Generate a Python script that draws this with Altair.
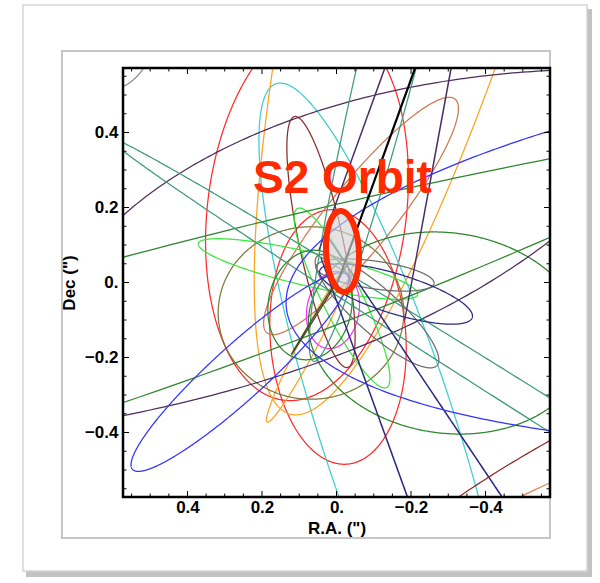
import numpy as np
import pandas as pd
import altair as alt

# ---------------- data: projected stellar orbits (arcsec) ----------------
orbit_ids = ["red_a", "red_b", "black", "cyan", "orange_a", "orange_b", "olive",
             "sienna", "magenta", "maroon", "lime_a", "lime_b", "dkgreen_a",
             "dkgreen_b", "dkgreen_c", "dkgreen_d", "purple_a", "purple_b",
             "seagreen_a", "seagreen_b", "gray_a", "gray_b", "gray_c", "navy_a",
             "purple_c", "purple_d", "navy_b", "navy_c", "blue_a", "blue_b",
             "dkolive", "maroon_b", "sienna_b"]
orbit_cx = [0.0792, -0.0040, -0.2295, -0.1382, -0.3745, 0.0725, 0.0685, -0.0658,
            0.0094, 0.0416, 0.0765, -0.0148, -0.2966, 0.0711, -0.3584, 0.6752,
            -0.7074, 1.4403, -0.7477, -0.1973, -0.1087, -0.1034, 0.6349, -0.1597,
            -0.1812, -0.3047, -0.1866, -0.4174, 0.2591, -1.9960, 0.0470, -0.8685,
            -0.8738]
orbit_cy = [0.1933, -0.1453, 0.6227, -0.3933, 1.5373, -0.1587, -0.0813, 0.1773,
            -0.0733, 0.1080, 0.0360, -0.0413, -0.1347, -0.0600, -1.3507, 1.6307,
            -0.2413, 0.7747, -0.4627, 0.8280, -0.0760, 0.0200, 0.6467, -0.0307,
            0.7133, 0.5560, -0.5613, -0.5320, -0.2387, 0.1213, -0.0733, -1.1773,
            -1.2787]
orbit_a = [0.511, 0.340, 0.668, 0.971, 1.953, 0.242, 0.249, 0.401, 0.104, 0.342,
           0.302, 0.267, 0.374, 0.147, 5.35, 5.35, 1.497, 2.406, 1.604, 1.070,
           0.217, 0.160, 0.139, 0.214, 0.668, 0.668, 0.668, 0.802, 0.388, 2.139,
           0.139, 1.604, 1.604]
orbit_b = [0.267, 0.182, 0.0006, 0.182, 0.336, 0.024, 0.230, 0.088, 0.070, 0.059,
           0.045, 0.053, 0.267, 0.112, 1.60, 1.87, 0.810, 1.211, 0.039, 0.080,
           0.059, 0.037, 0.139, 0.053, 0.0004, 0.0004, 0.0004, 0.0004, 0.072, 0.535,
           0.002, 0.802, 0.802]
orbit_tilt = [83, 94, 70, 108, 75.2, 62, 0, 51, 80, 102, -13, 116.6, -8, 80, 12.9,
              21, 0, 0, -32, 76, -42, -8, 0, -17, 70, 79.5, -70, -56, 42, 5, 58,
              31.5, 25]

# S2 orbit
s2_cx, s2_cy, s2_a, s2_b, s2_tilt = [-0.0161], [0.0827], [0.108], [0.044], [93]

tick_major = [-0.4, -0.2, 0.0, 0.2, 0.4]
tick_minor = [-0.55, -0.5, -0.45, -0.35, -0.3, -0.25, -0.15, -0.1, -0.05,
              0.05, 0.1, 0.15, 0.25, 0.3, 0.35, 0.45, 0.5, 0.55]

# ---------------- styles ----------------
orbit_colors = {
    "red_a": "#ff2b2b", "red_b": "#ff2b2b", "black": "#000000", "cyan": "#3ccfcf",
    "orange_a": "#ffa21f", "orange_b": "#ffa21f", "olive": "#7d7a3a",
    "sienna": "#cc7a52", "magenta": "#ff30ff", "maroon": "#8e2a2a",
    "lime_a": "#3be83b", "lime_b": "#3be83b", "dkgreen_a": "#2d862d",
    "dkgreen_b": "#2d862d", "dkgreen_c": "#2d862d", "dkgreen_d": "#2d862d",
    "purple_a": "#4d2d5e", "purple_b": "#4d2d5e", "seagreen_a": "#3f9a7c",
    "seagreen_b": "#3f9a7c", "gray_a": "#6e6e6e", "gray_b": "#6e6e6e",
    "gray_c": "#8a8a8a", "navy_a": "#2a2a80", "purple_c": "#4a2f66",
    "purple_d": "#4a2f66", "navy_b": "#2a2a80", "navy_c": "#2a2a80",
    "blue_a": "#3333ff", "blue_b": "#3333ff", "dkolive": "#4a4a2a",
    "maroon_b": "#8e2a2a", "sienna_b": "#d8875a",
}
S2_RED = "#ff2a00"
W, H = 427, 429
FONT = "Liberation Sans"

assert len({len(orbit_ids), len(orbit_cx), len(orbit_cy), len(orbit_a),
            len(orbit_b), len(orbit_tilt)}) == 1


def ellipses(ids, cx, cy, a, b, tilt, n=721):
    t = np.linspace(0, 2 * np.pi, n)
    frames = []
    for i, k in enumerate(ids):
        th = np.deg2rad(tilt[i])
        u = a[i] * np.cos(t) * np.cos(th) - b[i] * np.sin(t) * np.sin(th)
        v = a[i] * np.cos(t) * np.sin(th) + b[i] * np.sin(t) * np.cos(th)
        frames.append(pd.DataFrame({"id": k, "o": np.arange(n),
                                    "x": cx[i] - u, "y": cy[i] + v}))
    return pd.concat(frames, ignore_index=True)


orb = ellipses(orbit_ids, orbit_cx, orbit_cy, orbit_a, orbit_b, orbit_tilt)
thin = orb[orb.id != "black"]
blk = orb[orb.id == "black"]
s2 = ellipses(["S2"], s2_cx, s2_cy, s2_a, s2_b, s2_tilt)

# fill of S2 (horizontal slices)
yy = np.linspace(s2_cy[0] - s2_a[0], s2_cy[0] + s2_a[0], 121)
hw = s2_b[0] * np.sqrt(np.clip(1 - ((yy - s2_cy[0]) / s2_a[0]) ** 2, 0, 1))
s2fill = pd.DataFrame({"y": yy, "x": s2_cx[0] - hw, "x2": s2_cx[0] + hw})

XS = alt.Scale(domain=[-0.573, 0.573], reverse=True, nice=False, zero=False)
YS = alt.Scale(domain=[-0.572, 0.572], nice=False, zero=False)
lab = "datum.value == 0 ? '0.' : replace(format(datum.value, '.1f'), '-', '\u2212')"
AX = alt.Axis(values=tick_major, ticks=False, domain=False, grid=False, zindex=5,
              labelExpr=lab, labelFont=FONT, labelFontWeight="bold",
              labelFontSize=17, labelColor="black", labelPadding=2,
              title='R.A. (")', titleFont=FONT, titleFontWeight="bold",
              titleFontSize=17, titleColor="black", titlePadding=5)
AY = alt.Axis(values=tick_major, ticks=False, domain=False, grid=False, zindex=5,
              labelExpr=lab, labelFont=FONT, labelFontWeight="bold",
              labelFontSize=17, labelColor="black", labelPadding=5,
              title='Dec (")', titleFont=FONT, titleFontWeight="bold",
              titleFontSize=17, titleColor="black", titlePadding=6)


def X(f="x"):
    return alt.X(f"{f}:Q", scale=XS, axis=AX)


def Y(f="y"):
    return alt.Y(f"{f}:Q", scale=YS, axis=AY)


one = pd.DataFrame({"k": [0]})
shadow = alt.Chart(one).mark_rect(fill="#c2c2c2", clip=False).encode(
    x=alt.value(-97), x2=alt.value(469), y=alt.value(-59), y2=alt.value(509))
card = alt.Chart(one).mark_rect(fill="white", stroke="#d4d4d4", strokeWidth=1.5,
                                clip=False).encode(
    x=alt.value(-100), x2=alt.value(464), y=alt.value(-63), y2=alt.value(503))
inner = alt.Chart(one).mark_rect(fill="white", stroke="#c6c6c6", strokeWidth=2,
                                 clip=False).encode(
    x=alt.value(-61), x2=alt.value(427), y=alt.value(-17), y2=alt.value(470))

cscale = alt.Scale(domain=list(orbit_colors.keys()), range=list(orbit_colors.values()))
lines = alt.Chart(thin).mark_line(strokeWidth=1.25, clip=True).encode(
    x=X(), y=Y(), detail="id:N", order="o:Q",
    color=alt.Color("id:N", scale=cscale, legend=None))
black = alt.Chart(blk).mark_line(strokeWidth=1.8, clip=True, color="black").encode(
    x=X(), y=Y(), order="o:Q")
glow = alt.Chart(s2fill).mark_area(orient="horizontal", color="#d4d4d4",
                                   opacity=0.65, clip=True).encode(
    y=Y(), x=X(), x2="x2:Q")
s2line = alt.Chart(s2).mark_line(strokeWidth=6, color=S2_RED, clip=True).encode(
    x=X(), y=Y(), order="o:Q")

frame = alt.Chart(one).mark_rect(fill=None, stroke="black", strokeWidth=2.5,
                                 clip=False).encode(
    x=alt.value(0), x2=alt.value(W), y=alt.value(0), y2=alt.value(H))


def ticks(vals, ln):
    dx = pd.DataFrame({"x": vals})
    dy = pd.DataFrame({"y": vals})
    base = dict(color="black", strokeWidth=1, clip=False)
    return [
        alt.Chart(dx).mark_rule(**base).encode(x=X(), y=alt.value(H), y2=alt.value(H - ln)),
        alt.Chart(dx).mark_rule(**base).encode(x=X(), y=alt.value(0), y2=alt.value(ln)),
        alt.Chart(dy).mark_rule(**base).encode(y=Y(), x=alt.value(0), x2=alt.value(ln)),
        alt.Chart(dy).mark_rule(**base).encode(y=Y(), x=alt.value(W), x2=alt.value(W - ln)),
    ]


label = alt.Chart(pd.DataFrame({"x": [-0.016], "y": [0.2387], "t": ["S2 Orbit"]})).mark_text(
    font=FONT, fontWeight="bold", fontSize=46, color=S2_RED, align="center",
    baseline="alphabetic").encode(x=X(), y=Y(), text="t:N")

chart = alt.layer(
    shadow, card, inner, lines, black, glow, s2line, frame,
    *ticks(tick_major, 6), *ticks(tick_minor, 3.5), label
).properties(
    width=W, height=H,
    padding={"left": 123, "top": 68, "right": 50, "bottom": 86},
    autosize=alt.AutoSizeParams(type="none"),
).configure_view(stroke=None)

chart.save("out.html", embed_options={"renderer": "svg", "actions": False})
